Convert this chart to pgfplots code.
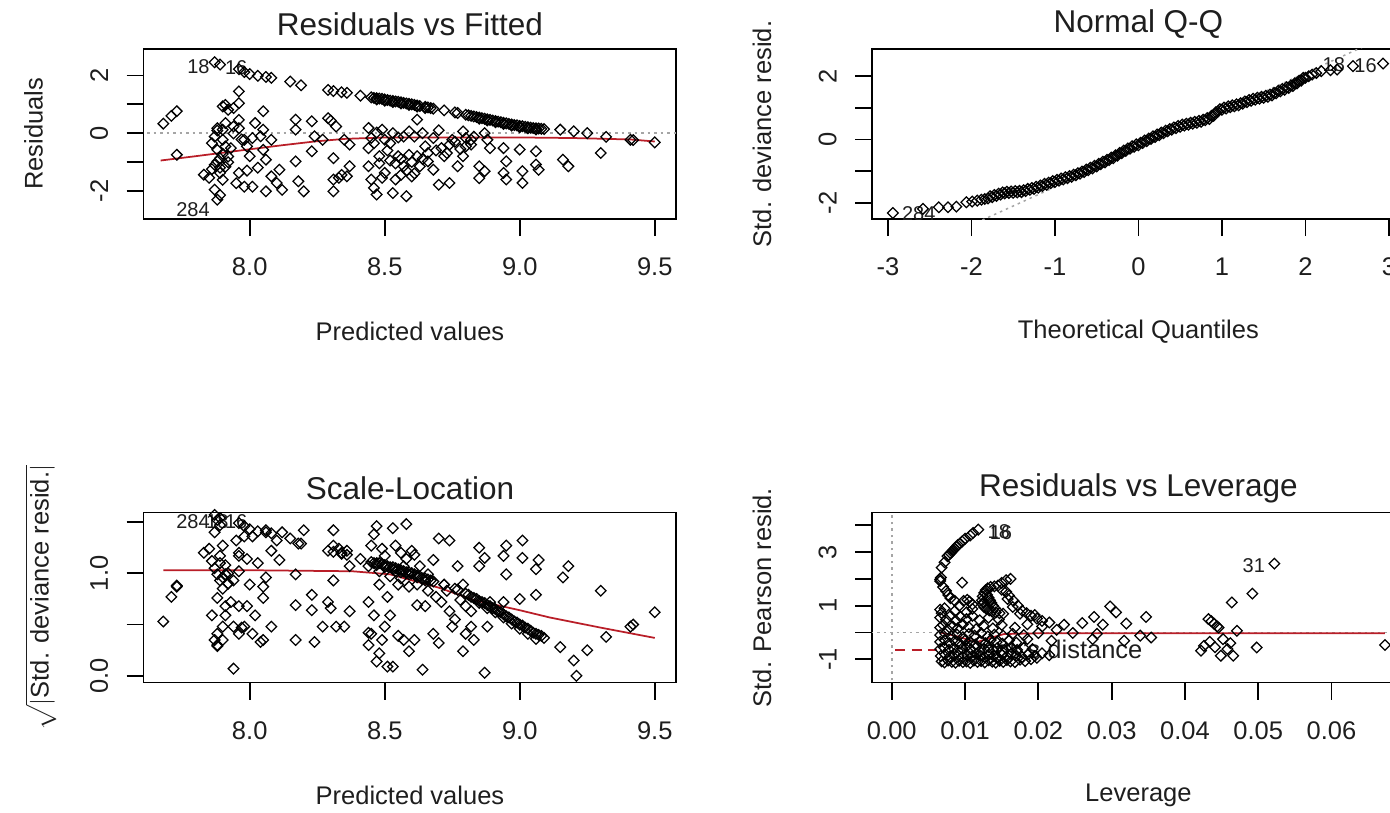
\documentclass[border=0pt]{standalone}
\usepackage{pgfplots}
\pgfplotsset{compat=1.18}
\usepackage{fontspec}
\setmainfont{Liberation Sans}
\definecolor{rred}{RGB}{185,30,40}
\definecolor{rgray}{RGB}{165,165,165}
\definecolor{txt}{RGB}{30,30,30}
\tikzset{idl/.style={font=\fontsize{8}{9}\selectfont, text=txt}}
\pgfplotsset{
  rdiag/.style={
    scale only axis, width=213.1pt, height=68pt,
    axis line style={line width=0.7pt, black},
    tick align=outside, major tick length=6.8pt,
    tick style={line width=0.7pt, black},
    tick pos=left, scaled ticks=false,
    ticklabel style={font=\fontsize{10.2}{12}\selectfont, text=txt},
    xticklabel style={anchor=north, inner ysep=8.6pt, inner xsep=0pt},
    yticklabel style={rotate=90, anchor=south, inner ysep=7.2pt, inner xsep=0pt},
    label style={font=\fontsize{10.2}{12}\selectfont, text=txt},
    title style={font=\fontsize{12.6}{14}\selectfont, text=txt, at={(axis description cs:0.5,1.056)}, anchor=center, yshift=0pt},
    xlabel style={at={(axis description cs:0.5,-0.662)}, anchor=center},
    ylabel style={at={(axis description cs:-0.2065,0.5)}, anchor=center},
  },
  pts/.style={only marks, mark=square, mark size=1.5pt, mark options={rotate=45, line width=0.5pt, draw=black, fill=none}},
  loess/.style={no markers, rred, line width=0.7pt},
  refl/.style={no markers, rgray, dash pattern=on 1pt off 1.6pt, line width=0.6pt},
}
\begin{document}
\begin{tikzpicture}
% ---------------- Panel 1 ----------------
\begin{axis}[rdiag, at={(57.44pt,237.2pt)}, anchor=south west,
  xmin=7.607, xmax=9.58, ymin=-2.98, ymax=2.92,
  xtick={8,8.5,9,9.5}, xticklabels={8.0,8.5,9.0,9.5},
  ytick={-2,-1,0,1,2}, yticklabels={-2,,0,,2},
  title={Residuals vs Fitted}, xlabel={Predicted values}, ylabel={Residuals}]
\addplot[refl] coordinates {(7.5,0) (9.7,0)};
\addplot[pts] table {
7.87 2.46
7.89 2.38
7.96 2.22
7.98 2.12
8.00 2.05
8.03 1.99
8.06 1.95
8.08 1.92
8.15 1.79
8.19 1.66
8.29 1.50
8.31 1.46
8.34 1.42
8.36 1.40
8.41 1.30
8.45 1.24
8.46 1.22
8.47 1.21
8.48 1.20
8.49 1.19
8.50 1.17
8.51 1.15
8.52 1.13
8.53 1.12
8.54 1.10
8.55 1.09
8.56 1.07
8.57 1.05
8.58 1.03
8.59 1.02
8.60 1.00
8.61 0.98
8.62 0.96
8.63 0.94
8.65 0.91
8.66 0.89
8.67 0.87
8.68 0.85
8.72 0.79
8.76 0.72
8.77 0.70
8.80 0.64
8.81 0.62
8.82 0.60
8.83 0.58
8.84 0.56
8.85 0.54
8.86 0.52
8.87 0.50
8.88 0.48
8.89 0.46
8.90 0.44
8.91 0.42
8.92 0.40
8.93 0.38
8.94 0.36
8.95 0.34
8.96 0.32
8.97 0.30
8.98 0.28
8.99 0.27
9.00 0.25
9.01 0.24
9.02 0.22
9.03 0.21
9.04 0.19
9.05 0.18
9.06 0.17
9.07 0.16
9.08 0.15
9.09 0.14
9.15 0.12
9.20 0.06
9.25 0.00
9.32 -0.13
9.41 -0.23
9.42 -0.24
9.50 -0.32
8.47 1.17
8.50 1.13
8.53 1.08
8.56 1.03
8.59 0.98
8.62 0.92
8.65 0.87
8.85 0.50
8.88 0.44
8.91 0.38
8.94 0.32
8.97 0.26
9.00 0.21
9.03 0.17
9.06 0.13
7.68 0.33
7.71 0.60
7.73 0.76
7.73 -0.75
7.83 -1.44
7.85 -1.55
7.86 -1.25
7.87 -1.96
7.88 -2.31
7.89 -2.15
7.89 -1.38
7.87 -1.10
7.89 -0.87
7.88 -0.58
7.91 -0.46
7.90 -0.23
7.90 0.12
7.88 0.17
7.91 0.35
7.90 0.93
7.92 0.81
7.91 0.98
7.92 -0.81
7.91 -1.17
7.90 -1.62
7.92 -1.01
7.88 -0.98
7.89 -1.20
7.90 -0.72
7.86 -0.35
7.93 -0.52
7.87 -0.12
7.94 -0.01
7.88 0.09
7.96 1.45
7.96 1.04
7.94 0.87
7.96 0.46
7.94 0.23
7.96 0.17
7.97 -0.22
7.96 -1.38
7.95 -1.74
7.98 -1.86
7.98 -0.23
7.99 -0.46
8.00 -0.80
8.01 -1.86
8.01 -0.17
8.04 -0.11
8.05 0.76
8.05 -0.58
8.06 -0.92
8.05 0.12
8.06 -2.02
8.08 -0.23
8.08 -1.50
8.10 -1.73
8.11 -1.27
8.12 -1.97
8.03 -1.20
8.02 0.35
7.99 -1.30
8.17 0.47
8.17 0.12
8.17 -0.98
8.18 -1.67
8.20 -2.02
8.23 0.41
8.24 -0.11
8.23 -0.63
8.27 -0.23
8.29 0.52
8.30 0.44
8.32 0.23
8.31 -0.87
8.31 -1.61
8.31 -2.02
8.33 -1.55
8.34 -1.45
8.36 -1.50
8.37 -1.15
8.37 -0.40
8.35 -0.23
8.44 0.18
8.44 -0.52
8.44 -1.15
8.45 -1.61
8.47 -2.13
8.45 -0.17
8.46 -0.35
8.47 0.02
8.48 -0.80
8.48 -1.05
8.49 0.12
8.50 -0.23
8.50 -1.38
8.51 -0.60
8.62 0.47
8.53 0.00
8.57 -0.12
8.59 0.06
8.61 -0.12
8.64 0.00
8.68 -0.17
8.70 0.10
8.75 -0.23
8.79 0.06
8.80 -0.17
8.82 -0.40
8.83 -0.12
8.87 0.00
8.88 -0.23
8.89 -0.52
8.94 -0.52
8.95 -0.98
8.94 -1.38
8.95 -1.61
9.00 -0.57
9.01 -1.32
9.01 -1.73
9.06 -0.63
9.06 -1.09
9.07 -1.27
9.16 -0.92
9.18 -1.15
9.30 -0.69
8.55 -0.80
8.57 -1.15
8.54 -1.61
8.53 -2.08
8.58 -2.19
8.60 -1.50
8.62 -0.80
8.63 -1.15
8.65 -0.46
8.66 -0.69
8.68 -1.27
8.70 -1.79
8.74 -1.73
8.72 -0.80
8.73 -0.69
8.77 -1.15
8.79 -0.80
8.80 -0.46
8.85 -1.15
8.85 -1.56
8.87 -1.32
8.82 -0.23
8.52 -0.95
8.54 -1.05
8.56 -0.90
8.58 -1.30
8.59 -0.75
8.60 -1.00
8.61 -1.40
8.56 -1.45
8.64 -0.90
8.66 -0.98
8.69 -0.60
8.71 -0.52
8.74 -0.40
8.76 -0.30
8.78 -0.55
8.52 -0.35
8.55 -0.15
8.49 -1.55
8.46 -1.90
};
\addplot[loess] coordinates {(7.67,-0.95) (7.80,-0.80) (7.90,-0.68) (8.00,-0.56) (8.12,-0.42) (8.24,-0.29) (8.35,-0.20) (8.50,-0.15) (8.75,-0.15) (9.00,-0.15) (9.20,-0.17) (9.41,-0.22) (9.50,-0.29)};
\node[idl] at (axis cs:7.81,2.30) {18};
\node[idl] at (axis cs:7.95,2.26) {16};
\node[idl] at (axis cs:7.79,-2.66) {284};
\end{axis}
% ---------------- Panel 2 ----------------
\begin{axis}[rdiag, at={(348.8pt,237.2pt)}, anchor=south west,
  xmin=-3.19, xmax=3.19, ymin=-2.51, ymax=2.86,
  xtick={-3,-2,-1,0,1,2,3}, xticklabels={-3,-2,-1,0,1,2,3},
  ytick={-2,-1,0,1,2}, yticklabels={-2,,0,,2},
  title={Normal Q-Q}, xlabel={Theoretical Quantiles}, ylabel={Std. deviance resid.}]
\addplot[refl] coordinates {(-3.5,-4.5) (3.5,3.9)};
\addplot[pts] table {
-2.94 -2.32
-2.58 -2.19
-2.39 -2.14
-2.28 -2.14
-2.18 -2.12
-2.06 -1.98
-1.99 -1.96
-1.93 -1.93
-1.88 -1.90
-1.84 -1.88
-1.80 -1.86
-1.75 -1.82
-1.70 -1.78
-1.65 -1.74
-1.60 -1.70
-1.55 -1.69
-1.50 -1.68
-1.45 -1.67
-1.40 -1.66
-1.35 -1.63
-1.30 -1.59
-1.25 -1.56
-1.20 -1.52
-1.15 -1.47
-1.10 -1.43
-1.05 -1.38
-1.00 -1.34
-0.95 -1.30
-0.90 -1.26
-0.85 -1.22
-0.80 -1.18
-0.75 -1.13
-0.70 -1.08
-0.65 -1.03
-0.60 -0.97
-0.55 -0.91
-0.50 -0.85
-0.45 -0.78
-0.40 -0.72
-0.35 -0.65
-0.30 -0.59
-0.25 -0.51
-0.20 -0.43
-0.15 -0.36
-0.10 -0.29
-0.05 -0.23
0.00 -0.18
0.05 -0.11
0.10 -0.05
0.15 0.02
0.20 0.08
0.25 0.14
0.30 0.20
0.35 0.26
0.40 0.31
0.45 0.36
0.50 0.40
0.55 0.44
0.60 0.47
0.65 0.50
0.70 0.53
0.75 0.56
0.80 0.61
0.85 0.65
0.90 0.75
0.95 0.88
1.00 0.94
1.05 0.98
1.10 1.02
1.15 1.05
1.20 1.08
1.25 1.13
1.30 1.18
1.35 1.22
1.40 1.26
1.45 1.29
1.50 1.32
1.55 1.35
1.60 1.39
1.65 1.46
1.70 1.52
1.75 1.57
1.80 1.63
1.85 1.69
1.90 1.77
1.95 1.86
2.00 1.95
2.04 2.00
2.08 2.05
2.13 2.10
2.19 2.16
2.30 2.19
2.38 2.21
2.57 2.32
2.93 2.40
-1.775 -1.79
-1.725 -1.75
-1.675 -1.71
-1.625 -1.67
-1.575 -1.65
-1.525 -1.64
-1.475 -1.63
-1.425 -1.62
-1.375 -1.60
-1.325 -1.56
-1.275 -1.53
-1.225 -1.49
-1.175 -1.45
-1.125 -1.40
-1.075 -1.36
-1.025 -1.31
-0.975 -1.27
-0.925 -1.23
-0.875 -1.19
-0.825 -1.15
-0.775 -1.11
-0.725 -1.06
-0.675 -1.01
-0.625 -0.95
-0.575 -0.89
-0.525 -0.83
-0.475 -0.77
-0.425 -0.70
-0.375 -0.64
-0.325 -0.57
-0.275 -0.50
-0.225 -0.42
-0.175 -0.35
-0.125 -0.28
-0.075 -0.21
-0.025 -0.15
0.025 -0.10
0.075 -0.03
0.125 0.03
0.175 0.10
0.225 0.16
0.275 0.22
0.325 0.28
0.375 0.33
0.425 0.38
0.475 0.43
0.525 0.47
0.575 0.50
0.625 0.53
0.675 0.56
0.725 0.59
0.775 0.63
0.825 0.68
0.875 0.75
0.925 0.86
0.975 0.96
1.025 1.01
1.075 1.05
1.125 1.08
1.175 1.11
1.225 1.15
1.275 1.20
1.325 1.25
1.375 1.29
1.425 1.32
1.475 1.35
1.525 1.38
1.575 1.42
1.625 1.47
1.675 1.54
1.725 1.60
1.775 1.65
1.825 1.71
1.875 1.78
1.925 1.86
1.975 1.95
};
\node[idl] at (axis cs:-2.63,-2.35) {284};
\node[idl] at (axis cs:2.34,2.37) {18};
\node[idl] at (axis cs:2.72,2.32) {16};
\end{axis}
% ---------------- Panel 3 ----------------
\begin{axis}[rdiag, at={(57.44pt,51.8pt)}, anchor=south west,
  xmin=7.607, xmax=9.58, ymin=-0.065, ymax=1.593,
  xtick={8,8.5,9,9.5}, xticklabels={8.0,8.5,9.0,9.5},
  ytick={0,0.5,1,1.5}, yticklabels={0.0,,1.0,},
  title={Scale-Location}, xlabel={Predicted values},
  ylabel style={at={(axis description cs:-0.193,0.5)}},
  ylabel={$\sqrt{|\mbox{Std. deviance resid.}|}$}]
\addplot[pts] table {
7.87 1.57
7.89 1.54
7.96 1.49
7.98 1.46
8.00 1.43
8.03 1.41
8.06 1.40
8.08 1.39
8.15 1.34
8.19 1.29
8.29 1.22
8.31 1.21
8.34 1.19
8.36 1.18
8.41 1.14
8.45 1.11
8.46 1.10
8.47 1.10
8.48 1.10
8.49 1.09
8.50 1.08
8.51 1.07
8.52 1.06
8.53 1.06
8.54 1.05
8.55 1.04
8.56 1.03
8.57 1.02
8.58 1.01
8.59 1.01
8.60 1.00
8.61 0.99
8.62 0.98
8.63 0.97
8.65 0.95
8.66 0.94
8.67 0.93
8.68 0.92
8.72 0.89
8.76 0.85
8.77 0.84
8.80 0.80
8.81 0.79
8.82 0.77
8.83 0.76
8.84 0.75
8.85 0.73
8.86 0.72
8.87 0.71
8.88 0.69
8.89 0.68
8.90 0.66
8.91 0.65
8.92 0.63
8.93 0.62
8.94 0.60
8.95 0.58
8.96 0.57
8.97 0.55
8.98 0.53
8.99 0.52
9.00 0.50
9.01 0.49
9.02 0.47
9.03 0.46
9.04 0.44
9.05 0.42
9.06 0.41
9.07 0.40
9.08 0.39
9.09 0.37
9.15 0.28
9.20 0.15
9.21 0.00
9.25 0.25
9.32 0.38
9.41 0.48
9.42 0.50
9.50 0.62
8.47 1.08
8.50 1.06
8.53 1.04
8.56 1.01
8.59 0.99
8.62 0.96
8.65 0.93
8.85 0.71
8.88 0.66
8.91 0.62
8.94 0.57
8.97 0.51
9.00 0.46
9.03 0.41
9.06 0.36
7.68 0.53
7.71 0.77
7.73 0.87
7.73 0.88
7.83 1.20
7.85 1.24
7.86 1.12
7.87 1.40
7.88 1.52
7.89 1.47
7.89 1.17
7.87 1.05
7.89 0.93
7.88 0.76
7.91 0.68
7.90 0.48
7.90 0.35
7.88 0.41
7.91 0.59
7.90 0.96
7.92 0.90
7.91 0.99
7.92 0.90
7.91 1.08
7.90 1.27
7.92 1.00
7.88 0.99
7.89 1.10
7.90 0.85
7.86 0.59
7.93 0.72
7.87 0.35
7.94 0.07
7.88 0.30
7.88 0.29
7.96 1.20
7.96 1.02
7.94 0.93
7.96 0.68
7.94 0.48
7.96 0.41
7.97 0.47
7.96 1.17
7.95 1.32
7.98 1.36
7.98 0.48
7.99 0.68
8.00 0.89
8.01 1.36
8.01 0.41
8.04 0.33
8.05 0.87
8.05 0.76
8.06 0.96
8.05 0.35
8.06 1.42
8.08 0.48
8.08 1.22
8.10 1.32
8.11 1.13
8.12 1.40
8.03 1.10
8.02 0.59
7.99 1.14
8.17 0.69
8.17 0.35
8.17 0.99
8.18 1.29
8.20 1.42
8.23 0.64
8.24 0.33
8.23 0.79
8.27 0.48
8.29 0.72
8.30 0.66
8.32 0.48
8.31 0.93
8.31 1.27
8.31 1.42
8.33 1.24
8.34 1.20
8.36 1.22
8.37 1.07
8.37 0.63
8.35 0.48
8.44 0.42
8.44 0.72
8.44 1.07
8.45 1.27
8.47 1.46
8.45 0.41
8.46 0.59
8.47 0.14
8.48 0.89
8.48 1.02
8.49 0.35
8.50 0.48
8.50 1.17
8.51 0.77
8.62 0.69
8.53 0.09
8.57 0.35
8.59 0.24
8.61 0.35
8.64 0.06
8.68 0.41
8.70 0.32
8.75 0.48
8.79 0.24
8.80 0.41
8.82 0.63
8.83 0.35
8.87 0.03
8.88 0.48
8.89 0.72
8.94 0.72
8.95 0.99
8.94 1.17
8.95 1.27
9.00 0.75
9.01 1.15
9.01 1.32
9.06 0.79
9.06 1.04
9.07 1.13
9.16 0.96
9.18 1.07
9.30 0.83
8.55 0.89
8.57 1.07
8.54 1.27
8.53 1.44
8.58 1.48
8.60 1.22
8.62 0.89
8.63 1.07
8.65 0.68
8.66 0.83
8.68 1.13
8.70 1.34
8.74 1.32
8.72 0.89
8.73 0.83
8.77 1.07
8.79 0.89
8.80 0.68
8.85 1.07
8.85 1.25
8.87 1.15
8.82 0.48
8.52 0.97
8.54 1.02
8.56 0.95
8.58 1.14
8.59 0.87
8.60 1.00
8.61 1.18
8.56 1.20
8.64 0.95
8.66 0.99
8.69 0.77
8.71 0.72
8.74 0.63
8.76 0.55
8.78 0.74
8.52 0.59
8.55 0.39
8.49 1.24
8.46 1.38
8.44 0.30
8.48 0.22
8.51 0.09
};
\addplot[loess] coordinates {(7.68,1.03) (8.00,1.03) (8.38,1.02) (8.52,0.99) (8.70,0.86) (8.83,0.74) (9.00,0.64) (9.11,0.57) (9.30,0.47) (9.50,0.37)};
\node[idl] at (axis cs:7.79,1.50) {284};
\node[idl] at (axis cs:7.88,1.50) {18};
\node[idl] at (axis cs:7.95,1.50) {16};
\end{axis}
% ---------------- Panel 4 ----------------
\begin{axis}[rdiag, at={(348.8pt,51.8pt)}, anchor=south west,
  xmin=-0.0027, xmax=0.0700, ymin=-1.87, ymax=4.48,
  xtick={0,0.01,0.02,0.03,0.04,0.05,0.06}, xticklabels={0.00,0.01,0.02,0.03,0.04,0.05,0.06},
  ytick={-1,0,1,2,3,4}, yticklabels={-1,,1,,3,},
  title={Residuals vs Leverage}, xlabel={Leverage}, ylabel={Std. Pearson resid.}]
\addplot[refl] coordinates {(-0.01,0) (0.08,0)};
\addplot[refl] coordinates {(0,-3) (0,5)};
\addplot[pts] table {
0.0066 1.98
0.0066 1.92
0.0067 2.05
0.0068 2.42
0.0072 2.62
0.0076 2.85
0.0078 2.90
0.0080 2.96
0.0082 3.02
0.0084 3.08
0.0086 3.14
0.0088 3.20
0.0090 3.26
0.0093 3.32
0.0096 3.40
0.0100 3.50
0.0107 3.62
0.0111 3.72
0.0118 3.84
0.0070 1.70
0.0074 1.55
0.0077 1.40
0.0080 1.28
0.0086 1.18
0.0096 1.86
0.0098 1.18
0.0103 1.22
0.0106 1.15
0.0110 1.05
0.0123 1.20
0.0124 1.35
0.0126 1.48
0.0128 1.58
0.0131 1.65
0.0135 1.70
0.0140 1.72
0.0145 1.75
0.0150 1.85
0.0156 1.95
0.0162 2.00
0.0124 1.05
0.0126 0.95
0.0129 0.88
0.0133 0.82
0.0137 0.78
0.0142 0.75
0.0147 0.72
0.0152 0.70
0.0125 1.12
0.0130 1.40
0.0132 1.30
0.0134 1.20
0.0136 1.10
0.0138 1.00
0.0140 0.92
0.0150 1.60
0.0156 1.52
0.0160 1.38
0.0166 1.18
0.0172 1.00
0.0178 0.81
0.0184 0.72
0.0190 0.62
0.0198 0.52
0.0205 0.43
0.0215 0.37
0.0158 1.25
0.0165 0.95
0.0175 0.70
0.0195 0.65
0.0235 0.29
0.0247 -0.02
0.0276 0.58
0.0288 0.29
0.0298 0.97
0.0306 0.75
0.0320 0.33
0.0347 0.58
0.0354 -0.19
0.0339 -0.12
0.0317 -0.31
0.0274 -0.25
0.0218 -0.31
0.0225 0.10
0.0260 0.35
0.0280 -0.05
0.0432 0.50
0.0436 0.42
0.0440 0.32
0.0444 0.22
0.0446 0.18
0.0422 -0.68
0.0426 -0.50
0.0434 -0.35
0.0441 -0.55
0.0449 -0.87
0.0452 -0.25
0.0458 -0.62
0.0466 -0.87
0.0462 -0.40
0.0471 0.06
0.0464 1.12
0.0492 1.45
0.0522 2.57
0.0498 -0.56
0.0673 -0.47
0.0068 -1.08
0.0072 -1.12
0.0077 -1.05
0.0082 -1.10
0.0087 -1.13
0.0092 -1.06
0.0097 -1.11
0.0102 -1.08
0.0107 -1.14
0.0112 -1.05
0.0117 -1.10
0.0122 -1.07
0.0127 -1.12
0.0132 -1.04
0.0137 -1.09
0.0142 -1.13
0.0147 -1.06
0.0152 -1.10
0.0157 -1.03
0.0162 -1.08
0.0168 -1.11
0.0175 -1.02
0.0182 -1.07
0.0190 -1.00
0.0198 -0.95
0.0067 -0.88
0.0073 -0.82
0.0079 -0.90
0.0085 -0.80
0.0091 -0.86
0.0097 -0.92
0.0103 -0.84
0.0109 -0.90
0.0115 -0.80
0.0121 -0.87
0.0127 -0.93
0.0133 -0.83
0.0139 -0.88
0.0145 -0.95
0.0151 -0.84
0.0157 -0.90
0.0163 -0.80
0.0170 -0.87
0.0178 -0.92
0.0186 -0.82
0.0195 -0.88
0.0205 -0.78
0.0215 -0.85
0.0066 -0.62
0.0071 -0.55
0.0078 -0.65
0.0084 -0.58
0.0090 -0.68
0.0096 -0.60
0.0102 -0.52
0.0108 -0.64
0.0114 -0.58
0.0120 -0.70
0.0126 -0.62
0.0132 -0.55
0.0138 -0.66
0.0144 -0.58
0.0150 -0.69
0.0156 -0.60
0.0163 -0.55
0.0171 -0.65
0.0180 -0.58
0.0192 -0.62
0.0066 -0.35
0.0072 -0.28
0.0079 -0.40
0.0086 -0.32
0.0093 -0.42
0.0100 -0.30
0.0107 -0.38
0.0114 -0.45
0.0121 -0.33
0.0128 -0.40
0.0135 -0.28
0.0143 -0.36
0.0151 -0.42
0.0160 -0.30
0.0170 -0.38
0.0185 -0.25
0.0066 -0.10
0.0073 -0.05
0.0081 -0.15
0.0089 -0.08
0.0097 -0.18
0.0105 -0.06
0.0113 -0.12
0.0122 -0.02
0.0131 -0.15
0.0140 -0.08
0.0152 -0.12
0.0165 -0.05
0.0180 -0.10
0.0200 -0.02
0.0066 0.18
0.0070 0.28
0.0076 0.12
0.0083 0.22
0.0090 0.15
0.0097 0.30
0.0105 0.20
0.0115 0.12
0.0125 0.25
0.0138 0.15
0.0150 0.28
0.0168 0.18
0.0185 0.30
0.0205 0.22
0.0066 0.55
0.0068 0.72
0.0074 0.48
0.0080 0.62
0.0087 0.45
0.0094 0.58
0.0102 0.50
0.0110 0.62
0.0120 0.45
0.0132 0.55
0.0146 0.48
0.0066 0.85
0.0072 0.90
0.0086 0.80
0.0102 0.75
0.0092 1.00
0.0110 0.88
};
\addplot[loess] coordinates {(0.0066,0.0) (0.0090,-0.15) (0.0115,-0.37) (0.0135,-0.20) (0.0153,-0.06) (0.0200,-0.03) (0.0673,-0.03)};
\addplot[rred, line width=0.7pt, dash pattern=on 4pt off 2.5pt, no markers] coordinates {(0.0005,-0.65) (0.0062,-0.65)};
\node[anchor=west, font=\fontsize{10.2}{12}\selectfont, text=txt] at (axis cs:0.0085,-0.65) {Cook's distance};
\node[idl] at (axis cs:0.0146,3.75) {18};
\node[idl] at (axis cs:0.0149,3.73) {16};
\node[idl] at (axis cs:0.0494,2.48) {31};
\end{axis}
\pgfresetboundingbox
\useasboundingbox (0pt,0pt) rectangle (556pt,324.8pt);
\end{tikzpicture}
\end{document}
